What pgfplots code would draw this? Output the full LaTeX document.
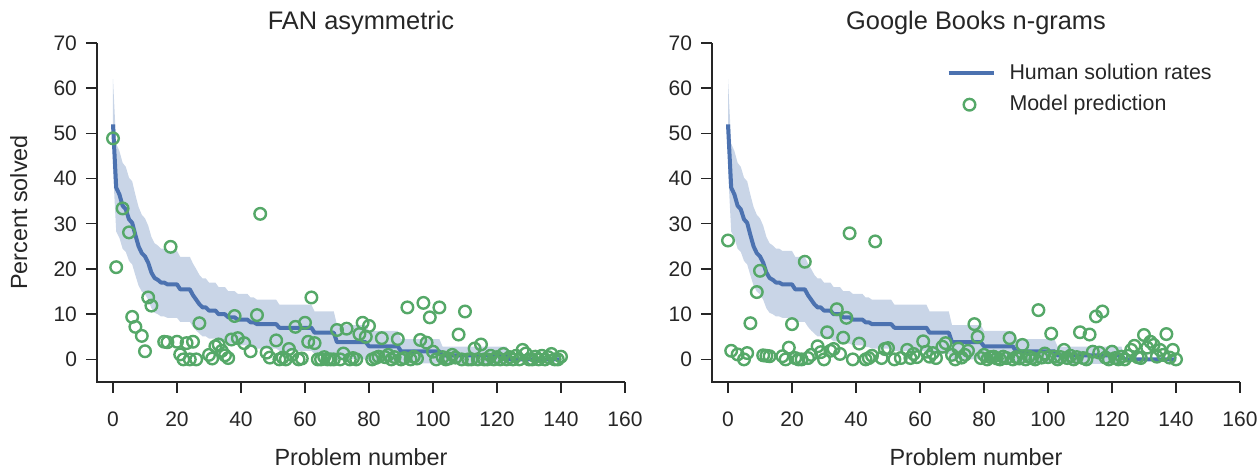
\documentclass[border=0pt]{standalone}
\usepackage{fontspec}
\setmainfont{Liberation Sans}
\usepackage{pgfplots}
\usepackage{pgfplotstable}
\pgfplotsset{compat=1.18}
\usepgfplotslibrary{fillbetween}

\definecolor{sbblue}{HTML}{4C72B0}
\definecolor{sbgreen}{HTML}{55A868}
\definecolor{sbband}{HTML}{C9D5E7}
\definecolor{axgray}{HTML}{262626}

% human solution rates, breakpoints of the steps: x, rate, lower and upper CI
\pgfplotstableread{
x h lo hi
0 52 42 62
1 38 28.3 47.7
2 36.5 26.9 46.1
3 34 24.5 43.5
4 33.2 23.8 42.6
5 31 21.8 40.2
6 30.2 21.0 39.4
7 27.5 18.6 36.4
8 25 16.3 33.7
9 23.5 15.0 32.0
10 22.8 14.4 31.2
11 21.4 13.2 29.6
12 19.2 11.3 27.1
13 18 10.3 25.7
14 17.6 10.0 25.2
15 17.0 9.5 24.5
16 17.0 9.5 24.5
17 16.6 9.2 24.0
20 16.6 9.2 24.0
21 15.5 8.3 22.7
24 15.5 8.3 22.7
25 14.2 7.2 21.2
26 13.2 6.4 20.0
27 12.2 5.7 18.7
28 11.5 5.1 17.9
29 11.5 5.1 17.9
30 10.8 4.6 17.0
32 10.8 4.6 17.0
33 10.0 4.0 16.0
35 10.0 4.0 16.0
36 9.3 3.5 15.1
38 9.3 3.5 15.1
39 8.8 3.1 14.5
42 8.8 3.1 14.5
43 8.2 2.7 13.7
44 8.2 2.7 13.7
45 7.8 2.4 13.2
51 7.8 2.4 13.2
52 7.0 1.9 12.1
62 7.0 1.9 12.1
63 5.9 1.2 10.6
69 5.9 1.2 10.6
70 3.8 0.0 7.6
79 3.8 0.0 7.6
80 2.9 -0.5 6.3
89 2.9 -0.5 6.3
90 1.8 -0.9 4.5
102 1.8 -0.9 4.5
103 0.9 -1.0 2.8
123 0.9 -1.0 2.8
124 0 -0.2 0.2
140 0 -0.2 0.2
}\human

% model predictions, FAN asymmetric
\pgfplotstableread{
x y
0 48.9
1 20.4
3 33.4
5 28.1
6 9.4
7 7.2
9 5.2
10 1.8
11 13.7
12 11.9
16 3.9
17 3.8
18 24.9
20 3.9
21 1.1
22 0
23 3.6
24 0
25 3.9
26 0
27 8.0
30 1.0
31 0.2
32 2.9
33 3.3
34 1.9
35 0.9
36 0.3
37 4.4
38 9.6
39 4.7
41 3.6
43 1.8
45 9.8
46 32.2
48 1.5
49 0.4
51 4.2
52 0
53 0.4
54 0
55 2.3
56 1.0
57 7.2
58 0
59 0.2
60 8.1
61 3.9
62 13.7
63 3.6
64 0
65 0
66 0.5
67 0
68 0
69 0
70 6.5
71 0
72 1.3
73 6.8
74 0
75 0.3
76 0
77 5.6
78 8.1
79 5.0
80 7.4
81 0
82 0.3
83 0.6
84 4.7
85 0.5
86 1.0
87 0
88 0.5
89 4.5
90 0
91 0.3
92 11.5
93 0
94 0.6
95 0.2
96 4.3
97 12.5
98 3.7
99 9.3
100 1.7
101 0
102 11.5
103 0.5
104 0
105 0.2
106 1.0
107 0.4
108 5.5
109 0
110 10.6
111 0
112 0
113 2.4
114 0
115 3.3
116 0
117 0
118 0.8
119 0
120 0.5
121 0
122 1.2
123 0
124 0.5
125 0
126 0.8
127 0
128 2.1
129 1.3
130 0
131 0
132 0.6
133 0
134 0.8
135 0
136 0.5
137 1.2
138 0
139 0
140 0.6
}\fan

% model predictions, Google Books n-grams
\pgfplotstableread{
x y
0 26.3
1 1.9
3 1.1
5 0
6 1.4
7 8.0
9 14.9
10 19.6
11 0.9
12 0.8
13 0.7
17 0.7
18 0
19 2.6
20 7.8
21 0.3
22 0
23 0
24 21.6
25 0.3
26 1.0
28 2.9
29 1.6
30 0
31 6.0
32 1.9
33 2.3
34 11.1
35 1.2
36 4.8
37 9.2
38 27.9
39 0
41 3.5
43 0
44 0.3
45 0.8
46 26.1
48 0.3
49 2.3
50 2.5
52 0
54 0.3
56 2.1
57 0.3
58 1.2
59 0.5
61 4.0
62 1.7
63 0.6
64 1.4
65 0.3
67 2.8
68 3.6
70 1.0
71 0
72 2.4
73 0.4
74 1.0
75 1.9
77 7.8
78 5.0
79 0.3
80 1.0
81 0
82 0.5
83 0.6
84 0.2
85 0
86 0.6
87 0.3
88 4.7
89 0
90 0.5
91 0.2
92 3.2
93 0
94 0.6
95 0.3
96 0
97 10.9
98 0.4
99 1.3
100 0.5
101 5.7
102 0.6
103 0
104 0.5
105 2.1
106 0.3
107 0.8
108 0
109 0.5
110 6.0
111 0.3
112 0
113 5.5
114 1.7
115 9.5
116 1.5
117 10.6
118 0.4
119 0
120 1.7
121 0.3
122 0
123 0.6
124 0
125 0.8
126 2.1
127 3.0
128 0.5
129 0.3
130 5.4
131 2.6
132 3.9
133 3.2
134 0.6
135 2.1
136 1.0
137 5.6
138 0.4
139 2.1
140 0
}\ngram

\pgfplotsset{
  sbaxis/.style={
    scale only axis, width=264pt, height=169.5pt,
    xmin=-5, xmax=160, ymin=-5, ymax=70,
    clip=false,
    axis line style={draw=none},
    xtick pos=bottom, ytick pos=left,
    xtick={0,20,...,160}, ytick={0,10,...,70},
    tick align=outside, major tick length=5.5pt,
    tick style={line width=0.7pt, color=axgray},
    /pgf/number format/assume math mode=true,
    ticklabel style={font=\fontsize{10.5}{12}\selectfont, color=axgray},
    xticklabel style={yshift=-6pt},
    yticklabel style={xshift=-1pt},
    label style={font=\fontsize{11.7}{14}\selectfont, color=axgray},
    xlabel={Problem number},
    xlabel style={at={(axis description cs:0.5,-0.221)}, anchor=center},
    every axis title shift=0pt,
    title style={font=\fontsize{12.7}{15}\selectfont, color=axgray,
      at={(axis description cs:0.5,1)}, anchor=base, yshift=6.9pt},
  },
  band/.style={draw=none, forget plot},
  spine/.style={axgray, line width=1.3pt, forget plot},
  human/.style={sbblue, line width=2pt, line join=round},
  model/.style={only marks, mark=o, mark size=2.9pt,
    mark options={sbgreen, line width=1.2pt}},
}

\begin{document}
\begin{tikzpicture}

\begin{axis}[sbaxis, at={(0pt,0pt)}, anchor=south west,
  title={FAN asymmetric}, ylabel={Percent solved},
  ylabel style={at={(axis description cs:-0.148,0.5)}, anchor=center}]
  \addplot[band, name path=hiA] table[x=x, y=hi] {\human};
  \addplot[band, name path=loA] table[x=x, y=lo] {\human};
  \addplot[sbband, draw=none, forget plot] fill between[of=hiA and loA];
  \addplot[spine] coordinates {(-5,70) (-5,-5) (160,-5)};
  \addplot[human] table[x=x, y=h] {\human};
  \addplot[model] table[x=x, y=y] {\fan};
\end{axis}

\begin{axis}[sbaxis, at={(307.5pt,0pt)}, anchor=south west,
  title={Google Books n-grams},
  legend style={draw=none, fill=none, at={(axis description cs:0.432,0.963)},
    anchor=north west, font=\fontsize{10.7}{12.5}\selectfont,
    text=axgray, row sep=2.5pt},
  legend cell align=left]
  \addplot[band, name path=hiB] table[x=x, y=hi] {\human};
  \addplot[band, name path=loB] table[x=x, y=lo] {\human};
  \addplot[sbband, draw=none, forget plot] fill between[of=hiB and loB];
  \addplot[spine] coordinates {(-5,70) (-5,-5) (160,-5)};
  \addplot[human, legend image code/.code={
      \draw[sbblue, line width=2pt] (0pt,0pt) -- (22.5pt,0pt);
      \path (27.5pt,0pt);}]
    table[x=x, y=h] {\human};
  \addlegendentry{Human solution rates}
  \addplot[model, legend image code/.code={
      \draw[sbgreen, line width=1.2pt] (10.5pt,0pt) circle (2.9pt);
      \path (0pt,0pt) (27.5pt,0pt);}]
    table[x=x, y=y] {\ngram};
  \addlegendentry{Model prediction}
\end{axis}

\pgfresetboundingbox
\path (-48.5pt,-44pt) rectangle (581.5pt,191pt);
\end{tikzpicture}
\end{document}
